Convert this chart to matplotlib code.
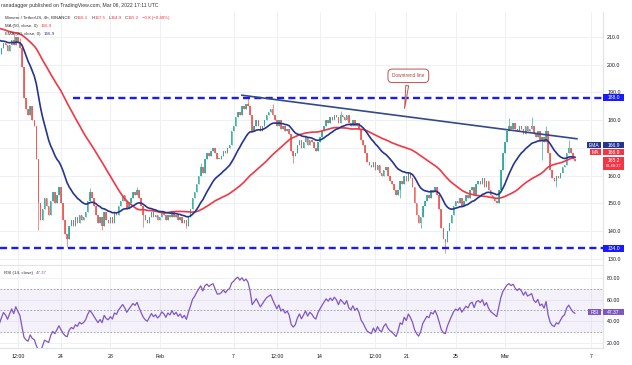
# Monero / TetherUS 4h chart with EMA20, MA50 and RSI(14), TradingView style
import numpy as np
import pandas as pd
import matplotlib
matplotlib.use("Agg")
import matplotlib.pyplot as plt
from matplotlib.patches import Rectangle
from matplotlib.transforms import blended_transform_factory

plt.rcParams["font.family"] = ["Liberation Sans", "DejaVu Sans"]

# 4h closes before the visible window (only used to warm up the averages)
earlier_closes = [216, 218, 217, 219, 220, 218, 217, 215, 216, 218,
                  219, 217, 216, 214, 215, 217, 218, 216, 214, 213,
                  215, 216, 214, 212, 213, 215, 216, 214, 213, 211,
                  212, 214, 213, 211, 210, 212, 213, 211, 209, 210,
                  212, 211, 209, 207, 208, 210, 209, 207, 205, 203]

# visible 4h closes, Jan 19 00:00 -> Mar 06 16:00 (one row per day)
closes = [
    204, 206, 208, 207, 205, 207,   # Jan 19
    209, 207, 210, 208, 206, 199,   # Jan 20
    188, 184, 182, 185, 180, 178,   # Jan 21
    166, 150, 144, 148, 152, 149,   # Jan 22
    146, 151, 154, 150, 153, 156,   # Jan 23
    150, 144, 139, 137, 142, 144,   # Jan 24
    142, 145, 143, 146, 144, 145,   # Jan 25
    147, 151, 154, 152, 149, 146,   # Jan 26
    143, 145, 142, 147, 144, 143,   # Jan 27
    145, 143, 147, 146, 149, 151,   # Jan 28
    153, 151, 148, 150, 152, 154,   # Jan 29
    153, 155, 152, 149, 146, 144,   # Jan 30
    143, 145, 147, 145, 146, 144,   # Jan 31
    145, 147, 146, 144, 146, 145,   # Feb 1
    147, 145, 146, 144, 145, 143,   # Feb 2
    144, 142, 145, 148, 152, 154,   # Feb 3
    157, 160, 163, 161, 166, 168,   # Feb 4
    167, 169, 170, 168, 166, 166,   # Feb 5
    167, 169, 168, 170, 171, 176,   # Feb 6
    178, 181, 183, 182, 185, 184,   # Feb 7
    186, 185, 182, 176, 178, 180,   # Feb 8
    178, 176, 178, 180, 182, 183,   # Feb 9
    184, 182, 180, 178, 180, 177,   # Feb 10
    178, 176, 177, 175, 169, 167,   # Feb 11
    168, 171, 173, 170, 172, 174,   # Feb 12
    171, 173, 172, 170, 169, 172,   # Feb 13
    174, 176, 178, 180, 179, 181,   # Feb 14
    180, 182, 181, 179, 182, 181,   # Feb 15
    180, 182, 179, 178, 180, 178,   # Feb 16
    179, 177, 173, 171, 168, 165,   # Feb 17
    164, 163, 165, 162, 164, 161,   # Feb 18
    160, 162, 163, 160, 158, 157,   # Feb 19
    155, 153, 155, 158, 157, 160,   # Feb 20
    158, 161, 159, 156, 150, 146,   # Feb 21
    143, 145, 149, 151, 153, 152,   # Feb 22
    155, 154, 156, 153, 148, 141,   # Feb 23
    137, 136, 140, 143, 146, 149,   # Feb 24
    151, 150, 152, 149, 151, 153,   # Feb 25
    152, 155, 156, 153, 157, 158,   # Feb 26
    157, 159, 156, 158, 155, 153,   # Feb 27
    152, 151, 150, 155, 162, 168,   # Feb 28
    172, 176, 178, 177, 179, 177,   # Mar 1
    176, 178, 177, 175, 178, 176,   # Mar 2
    177, 178, 175, 174, 176, 173,   # Mar 3
    174, 172, 176, 168, 162, 159,   # Mar 4
    158, 160, 159, 161, 163, 164,   # Mar 5
    168, 170, 168, 166.1, 165.2,    # Mar 6
]

# the longer wicks that stand out (candle index -> price)
wick_highs = {7: 211.5, 10: 209.6, 44: 155.5, 67: 155.8, 98: 164.5, 121: 188.5,
              133: 185.8, 166: 183.2, 248: 180.9, 259: 181.0, 266: 178.0, 277: 172.9}
wick_lows = {19: 140.5, 33: 134.3, 50: 140.5, 70: 141.5, 91: 141.0, 143: 164.6,
             195: 152.0, 205: 141.2, 217: 132.2, 242: 150.0, 264: 165.7, 271: 156.0}

tick_pos = [9, 30, 54, 78, 114, 135, 156, 183, 198, 222, 246, 288]
tick_labels = ["12:00", "24", "28", "Feb", "7", "12:00", "14", "12:00", "21", "25", "Mar", "7"]
price_ticks = [130, 140, 150, 160, 180, 190, 200, 210]
rsi_ticks = [20, 40, 60, 80]

resistance = 188.0
support = 134.0
trend_start = (118, 189.0)
trend_end = (281, 173.3)

# indicators
n_pre = len(earlier_closes)
allc = pd.Series(earlier_closes + closes, dtype=float)
sma50 = allc.rolling(50).mean().values[n_pre:]
ema20 = allc.ewm(span=20, adjust=False).mean().values[n_pre:]
delta = allc.diff()
gain = delta.clip(lower=0).ewm(alpha=1 / 14, adjust=False).mean()
loss = (-delta.clip(upper=0)).ewm(alpha=1 / 14, adjust=False).mean()
rsi = (100 - 100 / (1 + gain / loss)).values[n_pre:]

c = np.array(closes, dtype=float)
o = np.array([earlier_closes[-1]] + closes[:-1], dtype=float)
hi = np.maximum(o, c)
lo = np.minimum(o, c)
for k, v in wick_highs.items():
    hi[k] = max(hi[k], v)
for k, v in wick_lows.items():
    lo[k] = min(lo[k], v)
x = np.arange(len(c))
up = c >= o
col = np.where(up, "#26a69a", "#ef5350")

W, H = 632, 365


def box(x0, y0, x1, y1):
    return [x0 / W, 1 - y1 / H, (x1 - x0) / W, (y1 - y0) / H]


fig = plt.figure(figsize=(W / 100, H / 100), dpi=100)
ax = fig.add_axes(box(0, 12, 603, 265))
rx = fig.add_axes(box(0, 266, 603, 348), sharex=ax)

grid_c = "#eef0f5"
for a in (ax, rx):
    for t in tick_pos:
        a.axvline(t, color=grid_c, lw=0.7, zorder=0)
    for s in ["top", "left"]:
        a.spines[s].set_visible(False)
    a.spines["right"].set_color("#e0e3eb")
    a.spines["bottom"].set_color("#e0e3eb")
    a.spines["right"].set_linewidth(0.8)
    a.spines["bottom"].set_linewidth(0.8)
for p in range(130, 220, 10):
    ax.axhline(p, color=grid_c, lw=0.7, zorder=0)
for p in rsi_ticks:
    rx.axhline(p, color=grid_c, lw=0.7, zorder=0)

# candles
ax.vlines(x, lo, hi, color=col, lw=0.6, alpha=0.75, zorder=2)
ax.bar(x, np.maximum(np.abs(c - o), 0.25), bottom=lo * 0 + np.minimum(o, c),
       width=0.75, color=col, lw=0, alpha=0.85, zorder=3)

ax.plot(x, sma50, color="#f23645", lw=1.2, zorder=4)
ax.plot(x, ema20, color="#25358f", lw=1.2, zorder=5)

# levels and trend line
ax.axhline(resistance, xmin=73 / 603, color="#1a1aff", lw=1.7, dashes=(3, 1.8), zorder=6)
ax.axhline(support, color="#1a1aff", lw=1.7, dashes=(3, 1.8), zorder=6)
ax.plot([trend_start[0], trend_end[0]], [trend_start[1], trend_end[1]],
        color="#34498a", lw=1.2, zorder=6)
ax.annotate("Downtrend line", xy=(197, 183.2), xytext=(199, 196.0),
            ha="center", va="center", size=3.4, color="#b0413e",
            bbox=dict(boxstyle="round,pad=0.9", fc="white", ec="#c0504d", lw=0.7),
            arrowprops=dict(arrowstyle="wedge,tail_width=0.6,shrink_factor=0.5",
                            fc="white", ec="#c0504d", lw=0.7), zorder=7)

ax.set_xlim(0.32, 293.7)
ax.set_ylim(127.8, 219.0)
ax.yaxis.tick_right()
ax.set_yticks(price_ticks, [f"{v:.1f}" for v in price_ticks])
ax.tick_params(axis="y", length=0, pad=3, labelsize=3.8, labelcolor="#131722")
ax.tick_params(axis="x", length=0, labelbottom=False)

# RSI pane
rx.axhspan(30, 70, color="#7e57c2", alpha=0.08, lw=0, zorder=1)
for lvl in (70, 50, 30):
    rx.axhline(lvl, color="#9598a1", lw=0.6, dashes=(2, 2), zorder=2)
rx.plot(x, rsi, color="#7e57c2", lw=0.9, zorder=3)
rx.set_ylim(15.4, 91)
rx.yaxis.tick_right()
rx.set_yticks(rsi_ticks, [f"{v:.2f}" for v in rsi_ticks])
rx.tick_params(axis="y", length=0, pad=3, labelsize=3.8, labelcolor="#131722")
rx.set_xticks(tick_pos, tick_labels)
rx.tick_params(axis="x", length=0, pad=4, labelsize=3.8, labelcolor="#131722")


def badge(y_px, h_px, x0, x1, text, fc, lines=None):
    fig.add_artist(Rectangle((x0 / W, 1 - (y_px + h_px / 2) / H), (x1 - x0) / W, h_px / H,
                             transform=fig.transFigure, fc=fc, ec="none"))
    fig.text((x0 + x1) / 2 / W, 1 - y_px / H, text, ha="center", va="center",
             color="white", size=3.6)


badge(97.5, 7, 603, 624, "188.0", "#1a1aff")
badge(248, 7, 603, 624, "134.0", "#1a1aff")
badge(145.5, 6, 587, 601, "EMA", "#25358f")
badge(145.5, 6, 603, 624, "166.9", "#25358f")
badge(152.3, 6, 590, 601, "MA", "#f23645")
badge(152.3, 6, 603, 624, "166.9", "#f23645")
badge(163.3, 13, 603, 624, "", "#f23645")
fig.text(613.5 / W, 1 - 160 / H, "165.2", ha="center", va="center", color="white", size=3.6)
fig.text(613.5 / W, 1 - 166 / H, "01:48:37", ha="center", va="center", color="white", size=2.9)
badge(312.3, 6, 588, 601, "RSI", "#7e57c2")
badge(312.3, 6, 603, 624, "47.37", "#7e57c2")

# header and legends
r = fig.canvas.get_renderer()


def text_row(x_px, y_px, parts, size):
    for s, colr, gap in parts:
        t = fig.text(x_px / W, 1 - y_px / H, s, color=colr, size=size, va="center", ha="left")
        x_px += t.get_window_extent(renderer=r).width + gap


fig.text(1 / W, 1 - 6 / H, "ranadagger published on TradingView.com, Mar 06, 2022 17:11 UTC",
         size=3.7, color="#333333", va="center", ha="left")
red, dark = "#f23645", "#333333"
text_row(5, 18, [("Monero / TetherUS, 4h, BINANCE", dark, 3),
                 ("O", dark, 0), ("166.1", red, 3), ("H", dark, 0), ("167.5", red, 3),
                 ("L", dark, 0), ("164.9", red, 3), ("C", dark, 0), ("165.2", red, 3),
                 ("\u22120.8 (\u22120.48%)", red, 0)], 3.2)
text_row(5, 26, [("MA (50, close, 0)", dark, 3), ("166.9", red, 0)], 3.2)
text_row(5, 34, [("EMA (20, close, 0)", dark, 3), ("166.9", "#25358f", 0)], 3.2)
text_row(4, 273, [("RSI (14, close)", dark, 3), ("47.37", "#7e57c2", 0)], 3.2)

fig.savefig("out.png", dpi=100, facecolor="white")
